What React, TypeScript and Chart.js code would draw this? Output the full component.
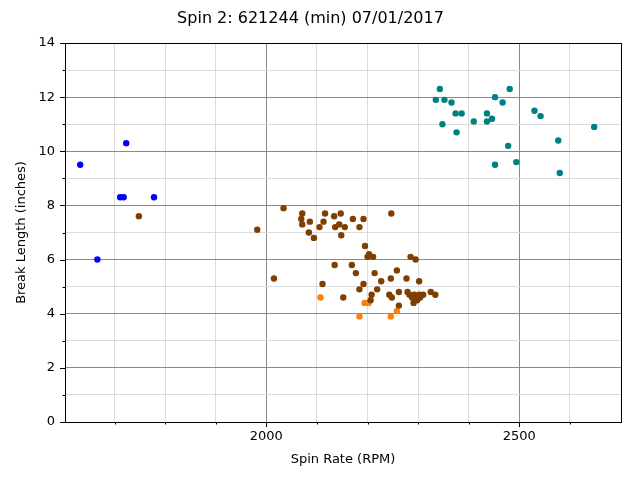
import React, { useEffect, useRef } from "react";
import { Chart, registerables } from "chart.js";

Chart.register(...registerables);

const blueX = [1723, 1632, 1711, 1718, 1778, 1666];
const blueY = [10.3, 9.5, 8.3, 8.3, 8.3, 6.0];

const brownX = [
  1748, 1982, 2015, 2034, 2071, 2069, 2071, 2086, 2116, 2113, 2105, 2084, 2094,
  2134, 2147, 2144, 2136, 2155, 2148, 2171, 2192, 2184, 2247, 2195, 2203, 2200,
  2211, 2285, 2295, 2135, 2169, 2177, 2214, 2258, 2111, 2192, 2184, 2227, 2246,
  2277, 2302, 2219, 2208, 2206, 2152, 2243, 2248, 2262, 2262, 2279, 2283, 2288,
  2293, 2298, 2303, 2310, 2291, 2298, 2304, 2325, 2334,
];
const brownY = [
  7.6, 7.1, 5.3, 7.9, 7.7, 7.5, 7.3, 7.4, 7.7, 7.4, 7.2, 7.0, 6.8, 7.6, 7.7, 7.3,
  7.2, 7.2, 6.9, 7.5, 7.5, 7.2, 7.7, 6.5, 6.2, 6.1, 6.1, 6.1, 6.0, 5.8, 5.8, 5.5,
  5.5, 5.6, 5.1, 5.1, 4.9, 5.2, 5.3, 5.3, 5.2, 4.9, 4.7, 4.5, 4.6, 4.7, 4.6, 4.8,
  4.3, 4.8, 4.7, 4.6, 4.7, 4.6, 4.7, 4.7, 4.4, 4.5, 4.6, 4.8, 4.7,
];

const orangeX = [2107, 2194, 2202, 2184, 2246, 2258];
const orangeY = [4.6, 4.4, 4.4, 3.9, 3.9, 4.1];

const tealX = [
  2343, 2335, 2352, 2366, 2374, 2386, 2348, 2376, 2410, 2436, 2436, 2446, 2452,
  2467, 2481, 2478, 2452, 2494, 2530, 2542, 2577, 2580, 2648,
];
const tealY = [
  12.3, 11.9, 11.9, 11.8, 11.4, 11.4, 11.0, 10.7, 11.1, 11.4, 11.1, 11.2, 12.0,
  11.8, 12.3, 10.2, 9.5, 9.6, 11.5, 11.3, 10.4, 9.2, 10.9,
];

// x ticks: minor every 100, labelled every 500
const xTicks = [1700, 1800, 1900, 2000, 2100, 2200, 2300, 2400, 2500, 2600];
const xMin = 1602;
const xMax = 2701;
const yMin = 0;
const yMax = 14;

const toPoints = (xs: number[], ys: number[]) =>
  xs.map((x, i) => ({ x, y: ys[i] }));

const FONT = "'DejaVu Sans', sans-serif";

// matplotlib-like frame and outward tick marks
const framePlugin = {
  id: "frame",
  afterDraw(chart: any) {
    const { ctx, chartArea, scales } = chart;
    ctx.save();
    ctx.strokeStyle = "#000";
    ctx.lineWidth = 1;
    ctx.beginPath();
    scales.x.ticks.forEach((t: any) => {
      const px = Math.round(scales.x.getPixelForValue(t.value)) + 0.5;
      const len = t.value % 500 === 0 ? 5 : 2.5;
      ctx.moveTo(px, chartArea.bottom);
      ctx.lineTo(px, chartArea.bottom + len);
    });
    scales.y.ticks.forEach((t: any) => {
      const py = Math.round(scales.y.getPixelForValue(t.value)) + 0.5;
      const len = t.value % 2 === 0 ? 5 : 2.5;
      ctx.moveTo(chartArea.left, py);
      ctx.lineTo(chartArea.left - len, py);
    });
    ctx.stroke();
    ctx.strokeRect(
      Math.round(chartArea.left) + 0.5,
      Math.round(chartArea.top) + 0.5,
      Math.round(chartArea.right - chartArea.left),
      Math.round(chartArea.bottom - chartArea.top)
    );
    ctx.restore();
  },
};

const App = () => {
  const canvasRef = useRef<HTMLCanvasElement>(null);

  useEffect(() => {
    document.body.style.margin = "0";
    const ctx = canvasRef.current?.getContext("2d");
    if (!ctx) return;

    const dot = (label: string, xs: number[], ys: number[], color: string) => ({
      label,
      data: toPoints(xs, ys),
      backgroundColor: color,
      borderColor: color,
      borderWidth: 0,
      pointRadius: 3.2,
    });

    const chart = new Chart(ctx, {
      type: "scatter",
      data: {
        datasets: [
          dot("blue", blueX, blueY, "#0000ff"),
          dot("brown", brownX, brownY, "#7f3f00"),
          dot("orange", orangeX, orangeY, "#ff7f0e"),
          dot("teal", tealX, tealY, "#008080"),
        ],
      },
      options: {
        responsive: false,
        animation: false,
        layout: { padding: { left: 0, right: 19, top: 0, bottom: 0 } },
        plugins: {
          legend: { display: false },
          tooltip: { enabled: false },
          title: {
            display: true,
            text: "Spin 2: 621244 (min) 07/01/2017",
            color: "#000",
            font: { family: FONT, size: 16, weight: "normal", lineHeight: 1.2 },
            padding: { top: 9, bottom: 14.8 },
          },
        },
        scales: {
          x: {
            type: "linear",
            min: xMin,
            max: xMax,
            afterBuildTicks: (scale: any) => {
              scale.ticks = xTicks.map((value) => ({ value }));
            },
            afterFit: (scale: any) => {
              scale.height = 58;
            },
            border: { display: false },
            grid: {
              drawTicks: false,
              color: (c: any) =>
                c.tick && c.tick.value % 500 === 0 ? "#8a8a8a" : "#dcdcdc",
              lineWidth: 1,
            },
            ticks: {
              autoSkip: false,
              maxRotation: 0,
              padding: 7,
              color: "#000",
              font: { family: FONT, size: 13 },
              callback: (v: any) => (Number(v) % 500 === 0 ? String(v) : ""),
            },
            title: {
              display: true,
              text: "Spin Rate (RPM)",
              color: "#000",
              font: { family: FONT, size: 13, lineHeight: 1.2 },
              padding: { top: 0, bottom: 13 },
            },
          },
          y: {
            type: "linear",
            min: yMin,
            max: yMax,
            afterFit: (scale: any) => {
              scale.width = 65;
            },
            border: { display: false },
            grid: {
              drawTicks: false,
              color: (c: any) =>
                c.tick && c.tick.value % 2 === 0 ? "#8a8a8a" : "#dcdcdc",
              lineWidth: 1,
            },
            ticks: {
              stepSize: 1,
              autoSkip: false,
              padding: 10,
              color: "#000",
              font: { family: FONT, size: 13 },
              callback: (v: any) => (Number(v) % 2 === 0 ? String(v) : ""),
            },
            title: {
              display: true,
              text: "Break Length (inches)",
              color: "#000",
              font: { family: FONT, size: 13, lineHeight: 1.2 },
              padding: { top: 14, bottom: 0 },
            },
          },
        },
      },
      plugins: [framePlugin],
    });

    return () => {
      chart.destroy();
    };
  }, []);

  return (
    <div style={{ position: "absolute", left: 0, top: 0, width: 640, height: 480, background: "#fff" }}>
      <canvas ref={canvasRef} width={640} height={480} />
    </div>
  );
};

export default App;
